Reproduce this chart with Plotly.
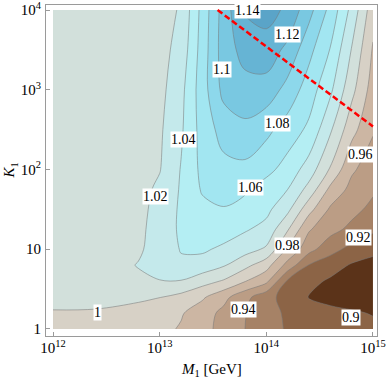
import plotly.graph_objects as go

# ---- data (axes are log10 of the plotted quantities) ----
log10_M1 = [12.0, 12.4, 12.8, 13.0, 13.2, 13.4, 13.6, 13.8, 14.0, 14.2, 14.4, 14.6, 14.8, 15.0]
log10_K1 = [0.0, 0.2, 0.4, 0.6, 0.8, 1.0, 1.25, 1.5, 1.75, 2.0, 2.5, 3.0, 3.5, 4.0]

# rows follow log10_K1, columns follow log10_M1
ratio = [
    [0.997, 0.995, 0.990, 0.986, 0.978, 0.966, 0.954, 0.940, 0.928, 0.918, 0.913, 0.909, 0.906, 0.904],
    [0.9995, 0.999, 0.996, 0.990, 0.982, 0.969, 0.955, 0.941, 0.927, 0.917, 0.911, 0.906, 0.902, 0.899],
    [1.002, 1.003, 1.002, 1.0005, 0.994, 0.983, 0.966, 0.946, 0.927, 0.912, 0.899, 0.893, 0.892, 0.892],
    [1.004, 1.008, 1.016, 1.019, 1.019, 1.008, 0.998, 0.981, 0.965, 0.917, 0.906, 0.897, 0.893, 0.891],
    [1.003, 1.008, 1.021, 1.031, 1.037, 1.032, 1.022, 1.006, 0.988, 0.953, 0.919, 0.909, 0.898, 0.894],
    [1.003, 1.007, 1.017, 1.029, 1.041, 1.043, 1.036, 1.028, 1.017, 0.977, 0.947, 0.927, 0.914, 0.905],
    [1.003, 1.007, 1.015, 1.029, 1.043, 1.050, 1.050, 1.042, 1.034, 1.002, 0.962, 0.947, 0.935, 0.924],
    [1.004, 1.007, 1.014, 1.027, 1.043, 1.055, 1.059, 1.055, 1.045, 1.025, 0.987, 0.957, 0.946, 0.935],
    [1.004, 1.007, 1.013, 1.024, 1.042, 1.062, 1.066, 1.062, 1.051, 1.040, 1.013, 0.975, 0.954, 0.943],
    [1.004, 1.007, 1.013, 1.019, 1.041, 1.065, 1.074, 1.075, 1.066, 1.052, 1.031, 0.998, 0.963, 0.950],
    [1.005, 1.008, 1.012, 1.017, 1.037, 1.068, 1.088, 1.095, 1.085, 1.071, 1.056, 1.023, 0.987, 0.962],
    [1.005, 1.008, 1.012, 1.014, 1.034, 1.071, 1.106, 1.113, 1.112, 1.093, 1.070, 1.044, 1.006, 0.971],
    [1.006, 1.009, 1.012, 1.013, 1.027, 1.069, 1.110, 1.127, 1.131, 1.115, 1.086, 1.059, 1.019, 0.978],
    [1.006, 1.009, 1.011, 1.012, 1.022, 1.067, 1.109, 1.142, 1.148, 1.136, 1.107, 1.074, 1.034, 0.988],
]

level_start = 0.90
level_end = 1.15
level_step = 0.02

# one colour per band: below 0.90, 0.90-0.92, ..., above 1.14
band_colors = [
    "#5b3319", "#8c6446", "#a68266", "#bb9d85", "#ccb6a3", "#d7d1c6", "#d2e0db",
    "#c4e9eb", "#b4eef3", "#a2e6f1", "#8dd8eb", "#79c8e1", "#66b4d4", "#5aa4c8",
]

label_text = ["1.14", "1.12", "1.1", "1.08", "1.04", "1.06", "1.02",
              "0.96", "0.98", "0.92", "1", "0.94", "0.9"]
label_logM = [13.825, 14.20, 13.58, 14.107, 13.223, 13.853, 12.96,
              14.879, 14.201, 14.86, 12.42, 13.79, 14.79]
label_logK = [4.0, 3.69, 3.25, 2.575, 2.375, 1.775, 1.66,
              2.19, 1.05, 1.15, 0.2125, 0.24, 0.15]

boundary_logM = [13.543, 15.0]
boundary_logK = [4.0, 2.54]

x_tickvals = [12, 13, 14, 15]
x_ticktext = ["10<sup>12</sup>", "10<sup>13</sup>", "10<sup>14</sup>", "10<sup>15</sup>"]
y_tickvals = [0, 1, 2, 3, 4]
y_ticktext = ["1", "10", "10<sup>2</sup>", "10<sup>3</sup>", "10<sup>4</sup>"]

x_title = "<i>M</i><sub>1</sub> [GeV]"
y_title = "<i>K</i><sub>1</sub>"

# ---- figure ----
n = len(band_colors) - 1
colorscale = [[i / n, c] for i, c in enumerate(band_colors)]

serif = "Liberation Serif"

fig = go.Figure()
fig.add_trace(go.Contour(
    x=log10_M1, y=log10_K1, z=ratio,
    colorscale=colorscale, showscale=False,
    contours=dict(start=level_start, end=level_end, size=level_step,
                  coloring="fill", showlabels=False),
    line=dict(color="rgba(120,120,120,0.6)", width=0.9, smoothing=1),
    hoverinfo="skip",
))
fig.add_trace(go.Scatter(
    x=boundary_logM, y=boundary_logK, mode="lines",
    line=dict(color="#ff0000", width=2.5, dash="6px,3px"),
    hoverinfo="skip", showlegend=False,
))

for t, xm, yk in zip(label_text, label_logM, label_logK):
    fig.add_annotation(x=xm, y=yk, text=t, showarrow=False,
                       bgcolor="white", borderpad=0,
                       font=dict(family=serif, size=14, color="black"))

# axis titles as paper-anchored annotations
fig.add_annotation(xref="paper", yref="paper", x=0.5, y=-0.103, text=x_title,
                   showarrow=False, xanchor="center", yanchor="middle",
                   font=dict(family=serif, size=15, color="black"))
fig.add_annotation(xref="paper", yref="paper", x=-0.109, y=0.5, text=y_title,
                   showarrow=False, xanchor="center", yanchor="middle", textangle=-90,
                   font=dict(family=serif, size=15, color="black"))

axis_common = dict(
    showgrid=False, zeroline=False, showline=True, linecolor="#9a9a9a",
    linewidth=1, mirror=True, ticks="inside", ticklen=4, tickcolor="#9a9a9a",
    tickfont=dict(family=serif, size=15, color="black"),
    ticklabeloverflow="allow",
)
fig.update_xaxes(range=[11.934, 15.038], tickvals=x_tickvals, ticktext=x_ticktext,
                 ticklabelstandoff=-2, **axis_common)
fig.update_yaxes(range=[-0.088, 4.063], tickvals=y_tickvals, ticktext=y_ticktext,
                 ticklabelstandoff=1, **axis_common)
fig.update_layout(width=388, height=382, margin=dict(l=46, r=11, t=5, b=46, autoexpand=False),
                  paper_bgcolor="white", plot_bgcolor="white", showlegend=False)

fig.write_html("out.html", config={"displayModeBar": False},
               post_script="document.body.style.margin='0';document.body.style.padding='0';")
